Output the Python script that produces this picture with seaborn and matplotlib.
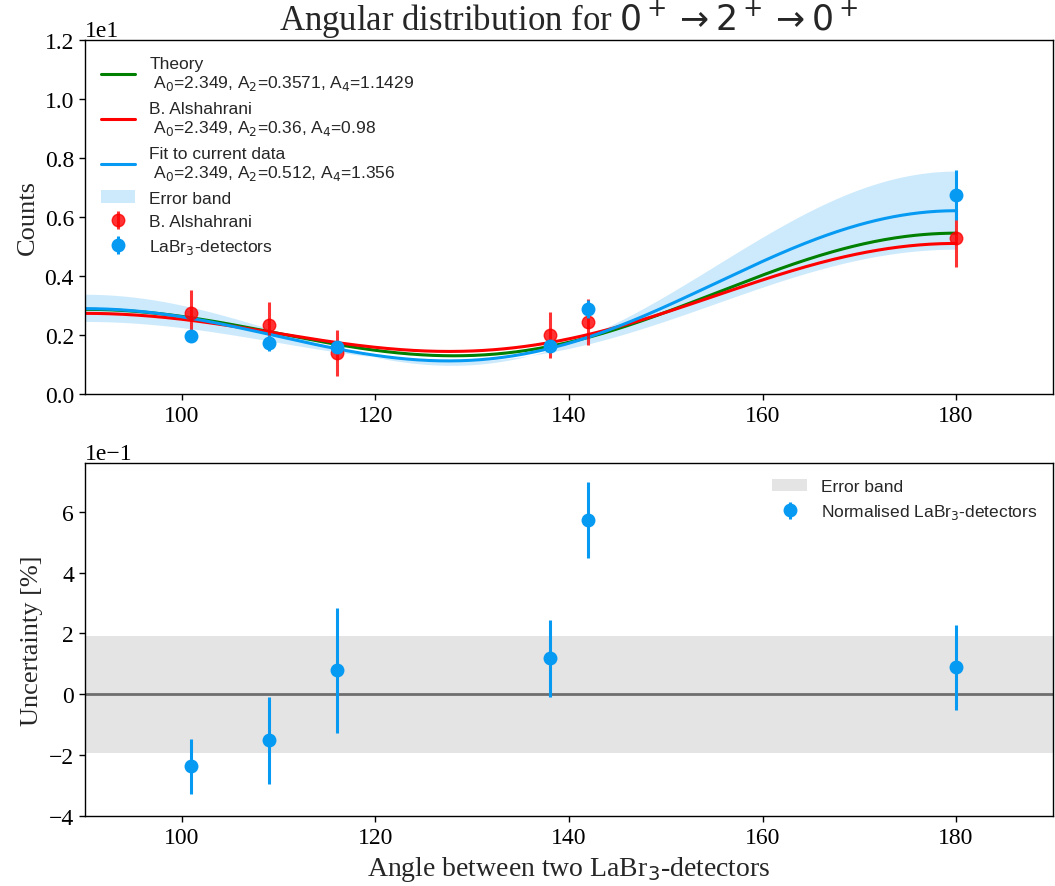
import numpy as np
import matplotlib
matplotlib.use("Agg")
import matplotlib.pyplot as plt
import seaborn as sns
from matplotlib.patches import Patch

# ---- measured points ----------------------------------------------------
angles = [101, 109, 116, 138, 142, 180]

alshahrani_counts = [2.75, 2.34, 1.39, 2.00, 2.44, 5.29]
alshahrani_err = [0.78, 0.78, 0.78, 0.77, 0.77, 1.00]

labr_counts = [1.97, 1.73, 1.60, 1.63, 2.88, 6.75]
labr_err = [0.20, 0.27, 0.15, 0.15, 0.30, 0.85]

normalised = [-0.237, -0.151, 0.079, 0.118, 0.572, 0.089]
normalised_err = [0.090, 0.143, 0.205, 0.127, 0.125, 0.140]
band_halfwidth = 0.193

# ---- angular-correlation coefficients -----------------------------------
theory_coef = (2.349, 0.3571, 1.1429)
alshahrani_coef = (2.349, 0.36, 0.98)
fit_coef = (2.349, 0.512, 1.356)

# finite-size attenuation of the detector pair
NORM, Q2, Q4 = 0.972, 0.845, 0.95

# Legendre series (c0, c2, c4) of the fit's error-band edges
band_upper = (2.511, 1.168, 3.877)
band_lower = (1.982, 0.710, 2.2165)


def correlation(theta, a0, a2, a4):
    x = np.cos(np.radians(theta))
    return a0 * NORM * np.polynomial.legendre.legval(x, [1, 0, Q2 * a2, 0, Q4 * a4])


def legendre_edge(theta, coef):
    x = np.cos(np.radians(theta))
    c0, c2, c4 = coef
    return np.polynomial.legendre.legval(x, [c0, 0, c2, 0, c4])


def coef_label(name, coef):
    a0, a2, a4 = coef
    return f"{name}\n A$_0$={a0}, A$_2$={a2}, A$_4$={a4}"


sns.set_style("ticks")
plt.rcParams["font.family"] = ["Liberation Serif", "DejaVu Sans"]
plt.rcParams["mathtext.fontset"] = "dejavusans"
plt.rcParams["axes.edgecolor"] = "black"
plt.rcParams["xtick.color"] = "black"
plt.rcParams["ytick.color"] = "black"
plt.rcParams["axes.linewidth"] = 1.0

AZURE = "#069af3"
legend_font = {"family": ["Liberation Sans", "DejaVu Sans"], "size": 12.5}

fig = plt.figure(figsize=(10.55, 8.87), dpi=100)
ax1 = fig.add_axes([0.0806, 0.5547, 0.9174, 0.3991])
ax2 = fig.add_axes([0.0806, 0.0789, 0.9174, 0.3980])

theta = np.linspace(90, 180, 500)

sns.lineplot(x=theta, y=correlation(theta, *theory_coef), color="green", lw=2.2, ax=ax1)
sns.lineplot(x=theta, y=correlation(theta, *alshahrani_coef), color="red", lw=2.2, ax=ax1)
sns.lineplot(x=theta, y=correlation(theta, *fit_coef), color=AZURE, lw=2.2, ax=ax1)
ax1.fill_between(theta, legendre_edge(theta, band_lower), legendre_edge(theta, band_upper),
                 color=AZURE, alpha=0.2, lw=0)

eb_red = ax1.errorbar(angles, alshahrani_counts, yerr=alshahrani_err, fmt="o", color="red",
                      alpha=0.8, ms=9, elinewidth=2.2, capsize=0, zorder=4)
eb_blue = ax1.errorbar(angles, labr_counts, yerr=labr_err, fmt="o", color=AZURE,
                       ms=9, elinewidth=2.2, capsize=0, zorder=5)

handles = [
    plt.Line2D([], [], color="green", lw=2.2),
    plt.Line2D([], [], color="red", lw=2.2),
    plt.Line2D([], [], color=AZURE, lw=2.2),
    Patch(facecolor=AZURE, alpha=0.2, lw=0),
    eb_red,
    eb_blue,
]
labels = [
    coef_label("Theory", theory_coef),
    coef_label("B. Alshahrani", alshahrani_coef),
    coef_label("Fit to current data", fit_coef),
    "Error band",
    "B. Alshahrani",
    "LaBr$_3$-detectors",
]
ax1.legend(handles, labels, loc="upper left", frameon=False, prop=legend_font,
           handlelength=2.0, labelspacing=0.47)

ax1.set_xlim(90, 190)
ax1.set_ylim(0, 12)
ax1.set_ylabel("Counts", fontsize=19)
ax1.set_title(r"Angular distribution for $0^+ \rightarrow 2^+ \rightarrow 0^+$", fontsize=25)
ax1.ticklabel_format(axis="y", style="sci", scilimits=(0, 0))

# ---- normalised residuals -----------------------------------------------
ax2.axhspan(-band_halfwidth, band_halfwidth, color="#e4e4e4", lw=0, zorder=0)
ax2.axhline(0, color="#6e6e6e", lw=2, zorder=1)
eb_norm = ax2.errorbar(angles, normalised, yerr=normalised_err, fmt="o", color=AZURE,
                       ms=9, elinewidth=2.2, capsize=0, zorder=3)
ax2.legend([Patch(facecolor="#e4e4e4", lw=0), eb_norm],
           ["Error band", "Normalised LaBr$_3$-detectors"],
           loc="upper right", frameon=False, prop=legend_font)
ax2.set_xlim(90, 190)
ax2.set_ylim(-0.4, 0.76)
ax2.set_xlabel("Angle between two LaBr$_3$-detectors", fontsize=20)
ax2.set_ylabel("Uncertainty [%]", fontsize=19)
ax2.ticklabel_format(axis="y", style="sci", scilimits=(0, 0))

for ax in (ax1, ax2):
    ax.tick_params(labelsize=17, direction="out", length=4.5, width=1)
    ax.yaxis.get_offset_text().set_fontsize(17)

fig.savefig("out.png", dpi=100)
